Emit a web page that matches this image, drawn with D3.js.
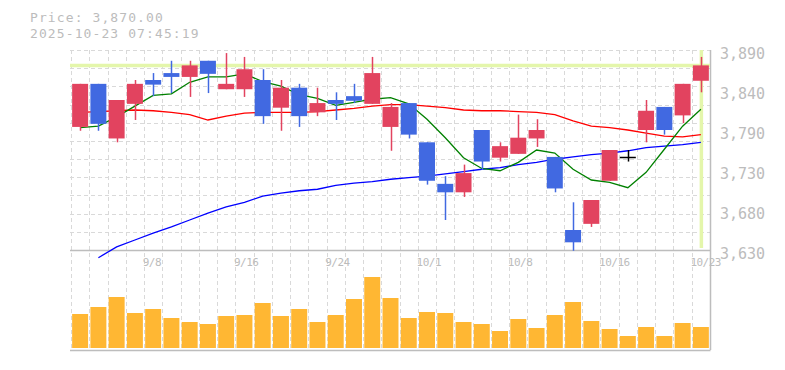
<!DOCTYPE html>
<html><head><meta charset="utf-8">
<script src="https://cdn.jsdelivr.net/npm/d3@7"></script>
<style>html,body{margin:0;padding:0;background:#fff;}svg{display:block;}</style>
</head><body>
<svg id="chart" width="785" height="370"></svg>
<script>
const dates = ["9/2","9/3","9/4","9/5","9/8","9/9","9/10","9/11","9/12","9/16","9/17","9/18","9/19","9/22","9/24","9/25","9/26","9/29","9/30","10/1","10/2","10/3","10/6","10/7","10/8","10/9","10/10","10/14","10/15","10/16","10/17","10/20","10/21","10/22","10/23"];
const openP  = [3790,3846,3775,3820,3851,3860,3855,3876,3839,3839,3851,3815,3841,3809,3825,3830,3820,3790,3821,3770,3716,3705,3786,3750,3755,3775,3751,3656,3664,3720,3751,3786,3816,3805,3850];
const highP  = [3846,3846,3825,3851,3860,3876,3876,3876,3886,3881,3865,3851,3846,3841,3835,3846,3881,3821,3821,3770,3726,3741,3786,3770,3806,3800,3751,3692,3695,3760,3760,3825,3816,3846,3881];
const lowP   = [3785,3785,3770,3799,3830,3834,3829,3834,3839,3829,3794,3785,3790,3804,3799,3821,3820,3759,3775,3715,3669,3699,3734,3745,3755,3764,3705,3629,3660,3720,3745,3770,3780,3795,3835];
const closeP = [3846,3794,3825,3846,3845,3855,3870,3859,3846,3865,3804,3841,3804,3821,3820,3824,3860,3816,3780,3720,3705,3730,3745,3765,3776,3786,3710,3640,3695,3760,3751,3811,3786,3846,3870];
const volume = [170000,205000,255000,175000,195000,150000,130000,120000,160000,165000,225000,160000,195000,130000,165000,245000,355000,250000,150000,180000,175000,130000,120000,85000,145000,100000,165000,230000,135000,95000,60000,105000,60000,125000,105000];
const ma5  = [3789,3791,3803,3817,3831,3833,3848,3855,3855,3859,3849,3843,3832,3827,3818,3822,3826,3828,3820,3800,3776,3750,3736,3733,3744,3760,3756,3735,3721,3718,3711,3731,3761,3791,3813];
const ma25 = [3809,3810,3811,3812,3811,3809,3806,3799,3804,3808,3809,3809,3809,3810,3812,3814,3817,3819,3819,3817,3815,3812,3811,3811,3810,3809,3806,3798,3791,3789,3786,3782,3778,3777,3780];
const ma75 = [null,3620,3634,3643,3652,3660,3669,3678,3686,3692,3700,3704,3707,3709,3714,3717,3719,3722,3724,3726,3729,3732,3735,3737,3741,3744,3748,3751,3754,3756,3759,3763,3765,3767,3770];
const yTickValues = [3630,3682,3734,3786,3838,3890];
const yTickLabels = ["3,630","3,680","3,730","3,790","3,840","3,890"];
const xLabelDates = ["9/8","9/16","9/24","10/1","10/8","10/16","10/23"];
const currentPrice = 3870;
const headerLines = ["Price: 3,870.00","2025-10-23 07:45:19"];

const svg = d3.select("#chart");
const FONT = "'DejaVu Sans Mono','Liberation Mono',monospace";
const UP = "#e2435f", DOWN = "#4169e1", GRID = "#d9d9d9", AXIS = "#bdbdbd", TXT = "#bcbcbc";
const left = 70, right = 710, pTop = 50, pBottom = 250, vBottom = 350;

const x = d3.scaleBand().domain(dates).range([71, 710]).paddingInner(0.125).paddingOuter(0.0625);
const y = d3.scaleLinear().domain([3630, 3890]).range([pBottom, pTop]);
const yv = d3.scaleLinear().domain([0, 440000]).range([348, 260]);
const cx = d => x(d) + x.bandwidth() / 2;
const gapHalf = x.step() * 0.125 / 2;

// header
svg.selectAll("text.hdr").data(headerLines).join("text")
  .attr("x", 30).attr("y", (d, i) => 22 + i * 16)
  .attr("font-family", FONT).attr("font-size", 13).attr("letter-spacing", 1.1).attr("fill", TXT).text(d => d);

// grid
const g = svg.append("g");
const vGrid = dates.map(d => Math.round(x(d) - gapHalf) + 0.5);
g.selectAll("line.vg").data(vGrid).join("line")
  .attr("x1", d => d).attr("x2", d => d).attr("y1", pTop).attr("y2", vBottom)
  .attr("stroke", GRID).attr("stroke-dasharray", "4,3");
const hGrid = d3.range(12).map(i => 3630 + i * 260 / 11);
g.selectAll("line.hg").data(hGrid).join("line")
  .attr("x1", left).attr("x2", right).attr("y1", d => Math.round(y(d)) + 0.5).attr("y2", d => Math.round(y(d)) + 0.5)
  .attr("stroke", GRID).attr("stroke-dasharray", "4,3");

// axes lines
g.append("line").attr("x1", left).attr("x2", right + 0.5).attr("y1", pBottom + 0.5).attr("y2", pBottom + 0.5).attr("stroke", AXIS).attr("stroke-width", 1.5);
g.append("line").attr("x1", left).attr("x2", right + 0.5).attr("y1", vBottom + 0.5).attr("y2", vBottom + 0.5).attr("stroke", AXIS).attr("stroke-width", 1.5);
g.append("line").attr("x1", right + 0.5).attr("x2", right + 0.5).attr("y1", pTop).attr("y2", vBottom).attr("stroke", AXIS).attr("stroke-width", 1.5);

// current price highlight
const hl = "#e4f6ab";
svg.append("line").attr("x1", left).attr("x2", right).attr("y1", y(currentPrice)).attr("y2", y(currentPrice))
  .attr("stroke", hl).attr("stroke-width", 3.5);
svg.append("line").attr("x1", cx(dates[dates.length - 1]) + 0.5).attr("x2", cx(dates[dates.length - 1]) + 0.5)
  .attr("y1", pTop).attr("y2", pBottom - 2).attr("stroke", hl).attr("stroke-width", 3.5);

// y labels
svg.selectAll("text.yl").data(yTickValues).join("text")
  .attr("x", 720).attr("y", d => y(d) + 8.5)
  .attr("font-family", FONT).attr("font-size", 15).attr("fill", TXT)
  .text((d, i) => yTickLabels[i]);

// x labels
svg.selectAll("text.xl").data(xLabelDates).join("text")
  .attr("x", d => x(d) - 2.5).attr("y", 266)
  .attr("font-family", FONT).attr("font-size", 11).attr("letter-spacing", -0.5).attr("fill", TXT)
  .text(d => d);

// moving averages
function maLine(arr, color) {
  const line = d3.line().defined(d => d.v != null).x(d => cx(d.d)).y(d => y(d.v));
  svg.append("path").datum(dates.map((d, i) => ({d, v: arr[i]})))
    .attr("d", line).attr("fill", "none").attr("stroke", color).attr("stroke-width", 1.3);
}
maLine(ma75, "#0000ff");
maLine(ma25, "#ff0000");
maLine(ma5, "#008000");

// candles
const data = dates.map((d, i) => ({d, o: openP[i], h: highP[i], l: lowP[i], c: closeP[i], v: volume[i]}));
const col = k => k.c > k.o ? UP : (k.c < k.o ? DOWN : "#000");
const cg = svg.append("g");
cg.selectAll("line.wick").data(data).join("line")
  .attr("x1", k => Math.round(cx(k.d)) + 0.5).attr("x2", k => Math.round(cx(k.d)) + 0.5)
  .attr("y1", k => y(k.h)).attr("y2", k => y(k.l))
  .attr("stroke", col).attr("stroke-width", 1.5);
cg.selectAll("rect.body").data(data.filter(k => k.c !== k.o)).join("rect")
  .attr("x", k => x(k.d)).attr("width", x.bandwidth())
  .attr("y", k => y(Math.max(k.o, k.c))).attr("height", k => Math.abs(y(k.o) - y(k.c)))
  .attr("fill", col);
cg.selectAll("line.doji").data(data.filter(k => k.c === k.o)).join("line")
  .attr("x1", k => x(k.d)).attr("x2", k => x(k.d) + x.bandwidth())
  .attr("y1", k => Math.round(y(k.o)) + 0.5).attr("y2", k => Math.round(y(k.o)) + 0.5)
  .attr("stroke", "#000").attr("stroke-width", 1.5);

// volume
svg.append("g").selectAll("rect").data(data).join("rect")
  .attr("x", k => x(k.d)).attr("width", x.bandwidth())
  .attr("y", k => yv(k.v)).attr("height", k => yv(0) - yv(k.v))
  .attr("fill", "#ffb733");
</script>
</body></html>
